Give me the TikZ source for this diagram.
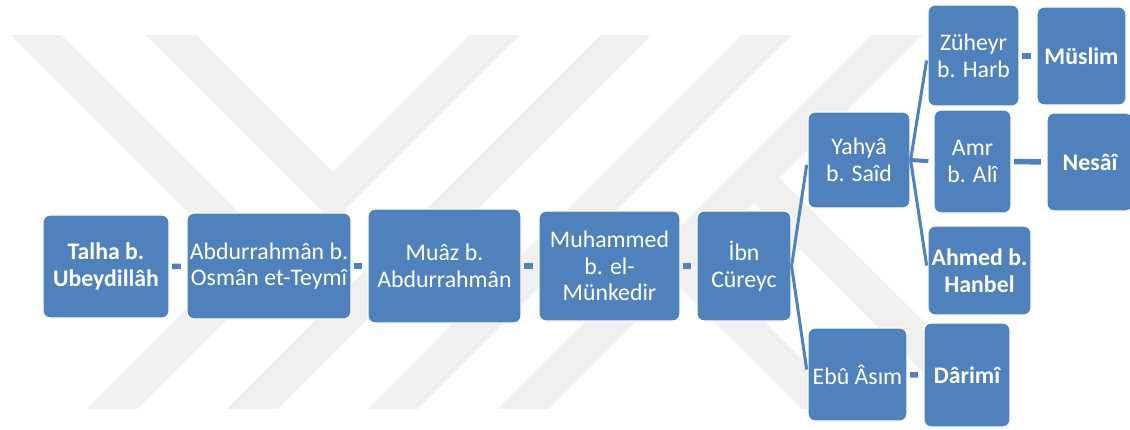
\documentclass[tikz,border=0pt]{standalone}
\usepackage{fontspec}
\setmainfont{Carlito}
\usepackage{tikz}

\definecolor{boxblue}{HTML}{4F81BD}
\definecolor{markgray}{HTML}{F0F0F0}

\begin{document}
\begin{tikzpicture}[x=1pt, y=-1pt,
        person/.style={rectangle, rounded corners=7pt, fill=boxblue, draw=white, line width=1.2pt,
                text=white, align=center, inner sep=0pt, font=\fontsize{23.8}{26.7}\selectfont},
        boldperson/.style={person, font=\fontsize{23.8}{26.7}\selectfont\bfseries},
        link/.style={draw=boxblue, line width=5.5pt, shorten <=2.5pt, shorten >=5.5pt},
        fork/.style={draw=boxblue, line width=3pt, shorten >=5pt}]
        %\draw[step=50,gray,very thin] (0,0) grid (1130,429);

        \fill[white] (0,0) rectangle (1130,429);
        \useasboundingbox (0,0) rectangle (1130,429);

        % watermark
        \begin{scope}
        \clip (0,35) rectangle (1130,408);
        \draw[markgray, line width=36pt, line join=miter] (1,0) -- (261,260) -- (91,430);
        \draw[markgray, line width=36pt, line join=miter] (136,0) -- (333,197) -- (530,0);
        \draw[markgray, line width=36pt] (661,0) -- (231,430);
        \draw[markgray, line width=36pt] (802,0) -- (372,430);
        \draw[markgray, line width=36pt] (932,0) -- (502,430);
        \draw[markgray, line width=36pt] (675,257) -- (848,430);
        \draw[markgray, line width=36pt] (754,178) -- (1007,430);
        \end{scope}

        % chain
        \node[boldperson, minimum width=126pt, minimum height=103pt] (talha) at (106,266.5) {Talha b.\\Ubeydillâh};
        \node[person, minimum width=164pt, minimum height=106pt] (abdur) at (269,266) {Abdurrahmân b.\\Osmân et-Teymî};
        \node[person, minimum width=153pt, minimum height=114pt] (muaz) at (444.5,266) {Muâz b.\\Abdurrahmân};
        \node[person, minimum width=141pt, minimum height=110pt] (muhammed) at (609.5,266) {Muhammed\\b. el-\\Münkedir};
        \node[person, minimum width=94pt, minimum height=110pt] (ibn) at (744,266) {İbn\\Cüreyc};

        % branches
        \node[person, minimum width=102pt, minimum height=96pt] (yahya) at (859,160) {Yahyâ\\b. Saîd};
        \node[person, minimum width=99pt, minimum height=93pt] (ebu) at (857.5,374.5) {Ebû Âsım};
        \node[person, minimum width=91pt, minimum height=101pt] (zuheyr) at (973.5,55.5) {Züheyr\\b. Harb};
        \node[person, minimum width=77pt, minimum height=103pt] (amr) at (972.5,161.5) {Amr\\b. Alî};
        \node[boldperson, minimum width=103pt, minimum height=89pt] (ahmed) at (979.5,270.5) {Ahmed b.\\Hanbel};
        \node[boldperson, minimum width=89pt, minimum height=98pt] (muslim) at (1081.5,56) {Müslim};
        \node[boldperson, minimum width=86pt, minimum height=98pt] (nesai) at (1090,162) {Nesâî};
        \node[boldperson, minimum width=86pt, minimum height=104pt] (darimi) at (967,375) {Dârimî};

        \draw[link] (talha) -- (abdur);
        \draw[link] (abdur) -- (muaz);
        \draw[link] (muaz) -- (muhammed);
        \draw[link] (muhammed) -- (ibn);

        \draw[fork] (ibn.east) -- (yahya.west);
        \draw[fork] (ibn.east) -- (ebu.west);
        \draw[fork] (yahya.east) -- (zuheyr.west);
        \draw[fork, line width=4pt] (yahya.east) -- (amr.west);
        \draw[fork] (yahya.east) -- (ahmed.west);

        \draw[link] (zuheyr.east |- muslim.west) -- (muslim.west);
        \draw[link] (amr) -- (nesai);
        \draw[link] (ebu) -- (darimi);
        \end{tikzpicture}
\end{document}
